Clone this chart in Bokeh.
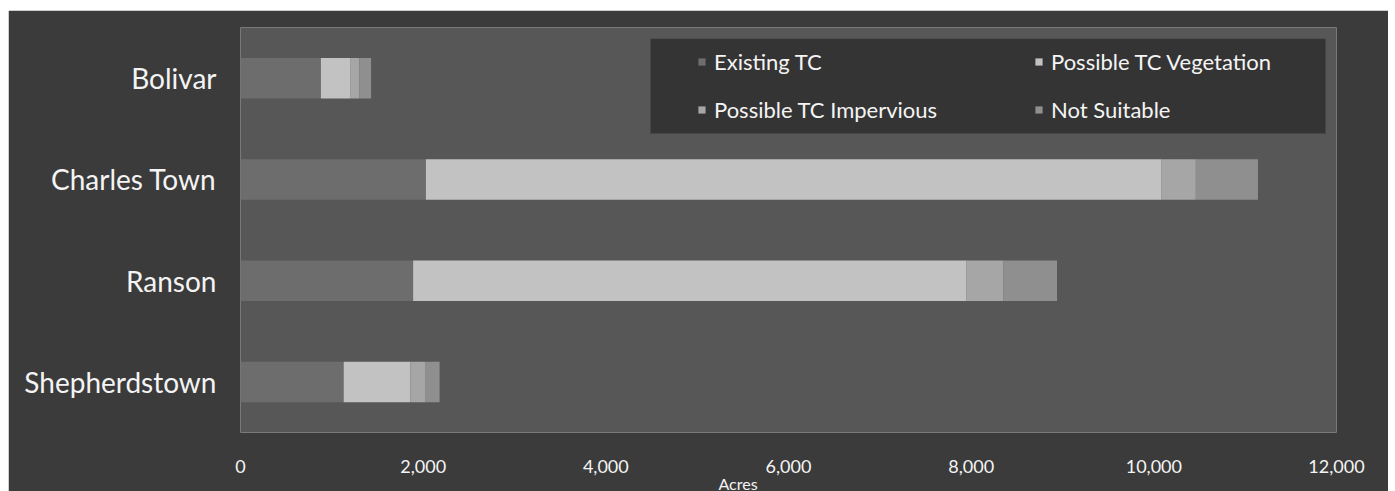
from bokeh.plotting import figure
from bokeh.models import (ColumnDataSource, FixedTicker, NumeralTickFormatter,
                          Legend, LegendItem, Title, BoxAnnotation)
from bokeh.embed import file_html
from bokeh.resources import INLINE

# Tree canopy land cover by town (acres)
towns = ["Bolivar", "Charles Town", "Ranson", "Shepherdstown"]
existing_tc = [880, 2030, 1890, 1130]
possible_veg = [320, 8050, 6060, 730]
possible_imp = [100, 380, 400, 160]
not_suitable = [130, 680, 590, 160]

series = ["Existing TC", "Possible TC Vegetation", "Possible TC Impervious", "Not Suitable"]
keys = ["existing", "veg", "imp", "ns"]
colors = ["#6d6d6d", "#c2c2c2", "#a6a6a6", "#8f8f8f"]
x_ticks = [0, 2000, 4000, 6000, 8000, 10000, 12000]

source = ColumnDataSource(dict(town=towns, existing=existing_tc, veg=possible_veg,
                               imp=possible_imp, ns=not_suitable))

FONT = "Lato"
TEXT = "#f4f4f4"

p = figure(y_range=list(reversed(towns)), x_range=(0, 12000),
           width=1380, height=481, margin=(10, 7, 0, 8),
           output_backend="svg", toolbar_location=None,
           min_border_left=232, min_border_right=52,
           min_border_top=17, min_border_bottom=59)

p.background_fill_color = "#575757"
p.border_fill_color = "#3b3b3b"
p.outline_line_color = None
p.xgrid.visible = False
p.ygrid.visible = False

renderers = p.hbar_stack(keys, y="town", height=0.4, color=colors,
                         line_color=None, source=source)

# x axis
p.xaxis.ticker = FixedTicker(ticks=x_ticks)
p.xaxis.formatter = NumeralTickFormatter(format="0,0")
p.xaxis.axis_line_color = None
p.xaxis.major_tick_line_color = None
p.xaxis.minor_tick_line_color = None
p.xaxis.major_label_text_font = FONT
p.xaxis.major_label_text_font_size = "18px"
p.xaxis.major_label_text_color = TEXT
p.xaxis.major_label_standoff = 21

# y axis
p.yaxis.axis_line_color = None
p.yaxis.major_tick_line_color = None
p.yaxis.minor_tick_line_color = None
p.yaxis.major_label_text_font = FONT
p.yaxis.major_label_text_font_size = "28px"
p.yaxis.major_label_text_color = TEXT
p.yaxis.major_label_standoff = 18

# axis title, set a little left of centre and tucked under the tick labels
p.add_layout(Title(text="Acres", align="left", offset=478, standoff=-6,
                   vertical_align="middle",
                   text_font=FONT, text_font_size="16px",
                   text_font_style="normal", text_color=TEXT), "below")

# legend panel
p.add_layout(BoxAnnotation(left=4490, right=11880, top=3.89, bottom=2.953,
                           fill_color="#343434", fill_alpha=1.0,
                           line_color=None))

legend = Legend(items=[LegendItem(label=s, renderers=[r]) for s, r in zip(series, renderers)],
                ncols=2, location=(457, 309), orientation="horizontal",
                background_fill_alpha=0.0, border_line_color=None,
                padding=0, margin=0, spacing=20,
                glyph_width=9, glyph_height=9, label_standoff=8,
                label_width=300, label_height=28,
                label_text_font=FONT, label_text_font_size="22px",
                label_text_color=TEXT)
p.add_layout(legend)

open("out.html", "w").write(file_html(p, INLINE))
